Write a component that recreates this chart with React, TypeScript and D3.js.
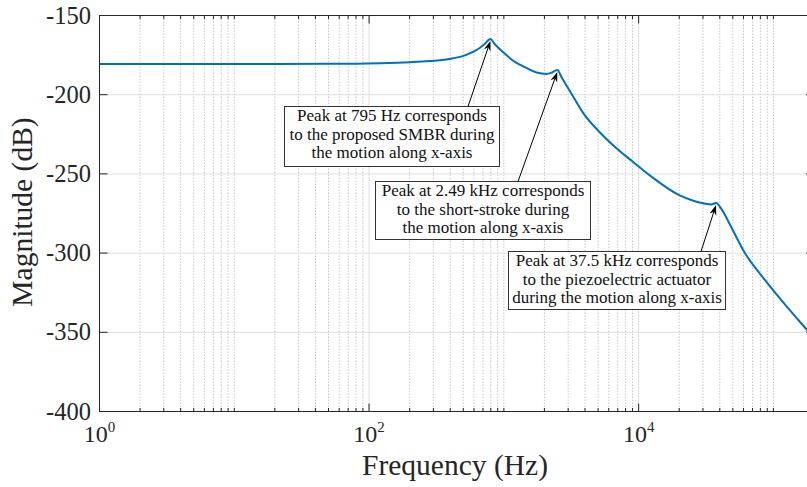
import * as d3 from 'd3';

// magnitude response
const freqHz = [1, 10, 50, 119, 200, 281, 396, 508, 600, 661, 720, 795, 854, 930, 1042, 1167, 1471, 1748, 2080, 2270, 2490, 2700, 2930, 3200, 3880, 5100, 6840, 9060, 12000, 20000, 25800, 30700, 34600, 37500, 41200, 48200, 60200, 87600, 127000, 178000, 200000];
const magDb = [-180.6, -180.6, -180.5, -180.1, -179.5, -178.8, -177.4, -175.3, -172.7, -170.5, -168.0, -164.8, -168.0, -171.1, -174.9, -178.4, -183.1, -186.0, -186.9, -186.0, -184.4, -189.5, -194.5, -199.9, -211.6, -223.4, -233.8, -242.3, -250.7, -263.4, -267.1, -268.7, -269.3, -268.4, -272.2, -282.9, -298.7, -317.6, -334.3, -348.6, -353.6];

const yTicks = [-400, -350, -300, -250, -200, -150];
const xTicks = [1, 100, 10000];

const peakFreqs = [795, 2490, 37500];
const peakNotes = [
  ['Peak at 795 Hz corresponds', 'to the proposed SMBR during', 'the motion along x-axis'],
  ['Peak at 2.49 kHz corresponds', 'to the short-stroke during', 'the motion along x-axis'],
  ['Peak at 37.5 kHz corresponds', 'to the piezoelectric actuator', 'during the motion along x-axis'],
];

// annotation boxes (pixel layout)
const boxes = [
  { x: 284, y: 106, w: 215, h: 60, tx: 468 },
  { x: 375, y: 181, w: 215, h: 58, tx: 518 },
  { x: 508, y: 251, w: 217, h: 58, tx: 701 },
];

const W = 807;
const H = 487;
const left = 99.5, top = 15.5, right = 814, bottom = 411.5;
const tf = { fontFamily: '"Liberation Serif"' };
const axisColor = '#262626';

export default function App() {
  const x = d3.scaleLog().domain([1, 2e5]).range([left, right]);
  const y = d3.scaleLinear().domain([-400, -150]).range([bottom, top]);

  const minor = x.ticks().filter(t => !xTicks.includes(t));
  const pts = freqHz.map((f, i) => [x(f), y(magDb[i])] as [number, number]);
  const line = d3.line().curve(d3.curveMonotoneX)(pts) || '';

  const arrow = (x0: number, y0: number, x1: number, y1: number, key: number) => {
    const a = Math.atan2(y1 - y0, x1 - x0);
    const L = 10, Wd = 3.5;
    const bx = x1 - L * Math.cos(a), by = y1 - L * Math.sin(a);
    const nx = -Math.sin(a), ny = Math.cos(a);
    const mx = x1 - L * 0.7 * Math.cos(a), my = y1 - L * 0.7 * Math.sin(a);
    const head = `M${x1},${y1}L${bx + nx * Wd},${by + ny * Wd}L${mx},${my}L${bx - nx * Wd},${by - ny * Wd}Z`;
    return (
      <g key={key}>
        <line x1={x0} y1={y0} x2={mx} y2={my} stroke="#000" strokeWidth={1} />
        <path d={head} fill="#000" />
      </g>
    );
  };

  return (
    <svg width={W} height={H} style={{ position: 'absolute', left: 0, top: 0, background: '#fff' }}>
      <rect width={W} height={H} fill="#fff" />
      {/* grid */}
      {minor.map(t => (
        <line key={'mg' + t} x1={x(t)} x2={x(t)} y1={top} y2={bottom} stroke="#c8c8c8" strokeWidth={1} strokeDasharray="1.5 1.5" />
      ))}
      {xTicks.map(t => (
        <line key={'xg' + t} x1={x(t)} x2={x(t)} y1={top} y2={bottom} stroke="#dedede" strokeWidth={1} />
      ))}
      {yTicks.map(t => (
        <line key={'yg' + t} x1={left} x2={right} y1={y(t)} y2={y(t)} stroke="#dedede" strokeWidth={1} />
      ))}

      {/* curve */}
      <path d={line} fill="none" stroke="#0072BD" strokeWidth={2} strokeLinejoin="round" />

      {/* frame and ticks */}
      <rect x={left} y={top} width={right - left} height={bottom - top} fill="none" stroke={axisColor} strokeWidth={1} />
      {minor.map(t => (
        <g key={'mt' + t}>
          <line x1={x(t)} x2={x(t)} y1={bottom} y2={bottom - 3.5} stroke={axisColor} />
          <line x1={x(t)} x2={x(t)} y1={top} y2={top + 3.5} stroke={axisColor} />
        </g>
      ))}
      {xTicks.map(t => (
        <g key={'xt' + t}>
          <line x1={x(t)} x2={x(t)} y1={bottom} y2={bottom - 8} stroke={axisColor} />
          <line x1={x(t)} x2={x(t)} y1={top} y2={top + 8} stroke={axisColor} />
          <text x={x(t)} y={441.5} textAnchor="middle" fontSize={24} fill={axisColor} style={tf}>
            10<tspan dy={-10} fontSize={15}>{Math.round(Math.log10(t))}</tspan>
          </text>
        </g>
      ))}
      {yTicks.map(t => (
        <g key={'yt' + t}>
          <line x1={left} x2={left + 8} y1={y(t)} y2={y(t)} stroke={axisColor} />
          <line x1={right} x2={right - 8} y1={y(t)} y2={y(t)} stroke={axisColor} />
          <text x={91} y={y(t) + 8} textAnchor="end" fontSize={24.5} fill={axisColor} style={tf}>{t}</text>
        </g>
      ))}

      {/* axis titles */}
      <text x={455} y={475} textAnchor="middle" fontSize={29.5} fill={axisColor} style={tf}>Frequency (Hz)</text>
      <text transform="translate(32,212) rotate(-90)" textAnchor="middle" fontSize={29.5} fill={axisColor} style={tf}>Magnitude (dB)</text>

      {/* annotations */}
      {boxes.map((b, i) => (
        <g key={'box' + i}>
          <rect x={b.x + 0.5} y={b.y + 0.5} width={b.w} height={b.h} fill="#fff" stroke="#333" strokeWidth={1} />
          {peakNotes[i].map((s, j) => (
            <text key={j} x={b.x + b.w / 2 + 0.5} y={b.y + 15 + j * 18.7} textAnchor="middle" fontSize={17} fill="#111" style={tf}>{s}</text>
          ))}
        </g>
      ))}
      {boxes.map((b, i) => {
        const k = freqHz.indexOf(peakFreqs[i]);
        return arrow(b.tx, b.y + 0.5, x(peakFreqs[i]), y(magDb[k]) + 2, i);
      })}
    </svg>
  );
}
